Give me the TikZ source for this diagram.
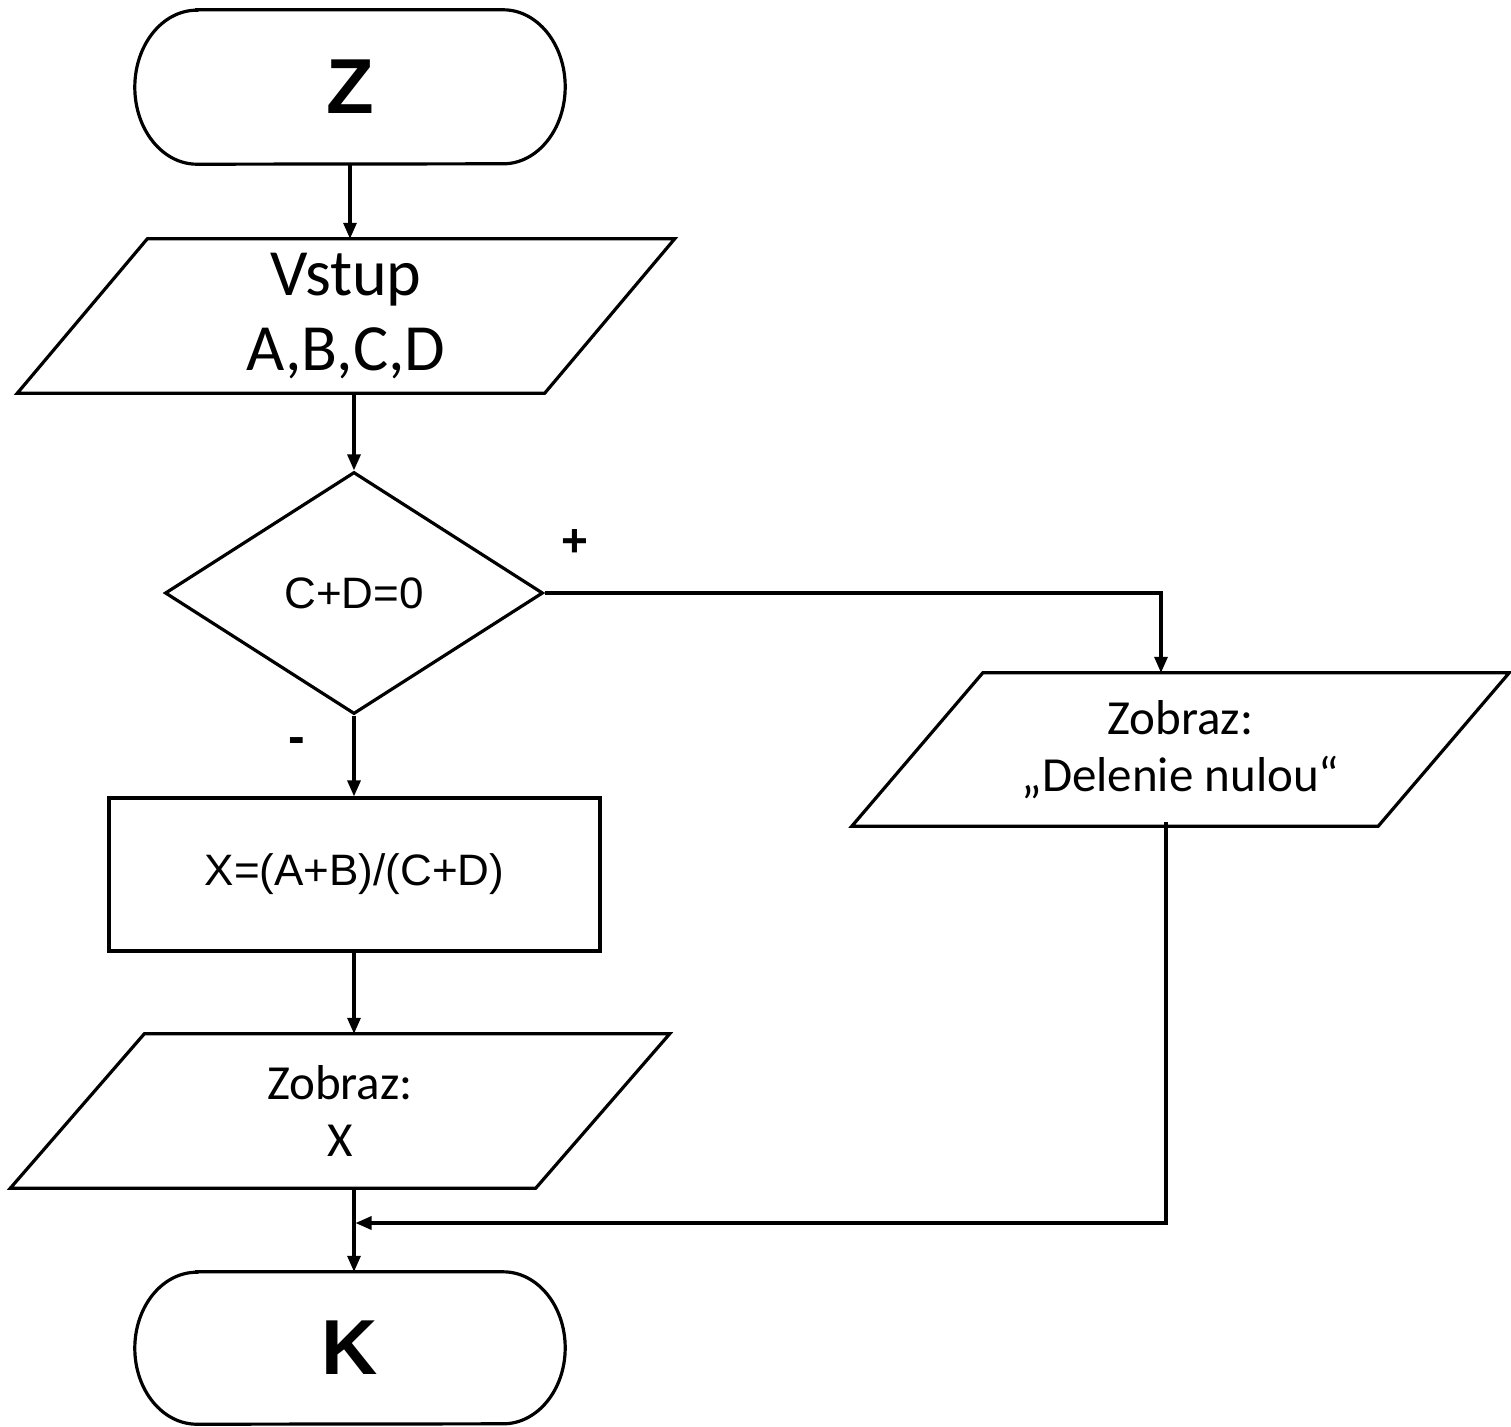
\documentclass[tikz,border=0pt]{standalone}
\usepackage{fontspec}
\setmainfont{Liberation Sans}
\newfontfamily\aptos{Carlito}
\usetikzlibrary{shapes.geometric,arrows.meta,calc}
\begin{document}
\begin{tikzpicture}[x=1pt,y=1pt,
  line/.style={line width=3.2pt,line join=miter},
  arr/.style={line width=3.2pt,-{Triangle[length=16pt,width=13pt]}},
  box/.style={draw=none,inner sep=0pt,align=center},
  bigtxt/.style={font=\fontsize{66}{75}\selectfont\aptos},
  midtxt/.style={font=\fontsize{49}{57}\selectfont\aptos},
  ariatxt/.style={font=\fontsize{44}{50}\selectfont},
  signtxt/.style={font=\fontsize{50}{56}\selectfont\bfseries},
  termtxt/.style={font=\fontsize{78}{80}\selectfont\bfseries}]
\useasboundingbox (0,0) rectangle (1511,-1426);
\fill[white] (0,0) rectangle (1511,-1426);

% start terminator
\node[box,termtxt,minimum width=430pt,minimum height=154pt] (z) at (350,-87) {Z};
\draw[line] ($(z.north west)+(62,0)$) -- ($(z.north east)+(-62,0)$)
  arc[start angle=90,end angle=-90,x radius=62,y radius=77]
  -- ($(z.south west)+(62,0)$)
  arc[start angle=270,end angle=90,x radius=62,y radius=77] -- cycle;

% input parallelogram
\node[box,bigtxt,minimum width=527pt,minimum height=154pt] (in) at (346,-316) {Vstup\\A,B,C,D};
\draw[line] ($(in.north west)+(65,0)$) -- ($(in.north east)+(65,0)$)
  -- ($(in.south east)+(-65,0)$) -- ($(in.south west)+(-65,0)$) -- cycle;

% decision
\node[draw,line,diamond,inner sep=0pt,minimum width=378pt,minimum height=242pt,ariatxt] (d) at (354,-593) {C+D=0};

% process
\node[draw,line,rectangle,inner sep=0pt,minimum width=491pt,minimum height=153pt,ariatxt] (r) at (354.5,-874.5) {X=(A+B)/(C+D)};

% output X
\node[box,midtxt,minimum width=525pt,minimum height=154pt] (o1) at (340,-1111) {Zobraz:\\X};
\draw[line] ($(o1.north west)+(67,0)$) -- ($(o1.north east)+(67,0)$)
  -- ($(o1.south east)+(-67,0)$) -- ($(o1.south west)+(-67,0)$) -- cycle;

% output message
\node[box,midtxt,minimum width=526pt,minimum height=153pt] (o2) at (1180.5,-749.5) {Zobraz:\\„Delenie nulou“};
\draw[line] ($(o2.north west)+(65.5,0)$) -- ($(o2.north east)+(65.5,0)$)
  -- ($(o2.south east)+(-65.5,0)$) -- ($(o2.south west)+(-65.5,0)$) -- cycle;

% end terminator
\node[box,termtxt,minimum width=430pt,minimum height=152pt] (k) at (350,-1348) {K};
\draw[line] ($(k.north west)+(62,0)$) -- ($(k.north east)+(-62,0)$)
  arc[start angle=90,end angle=-90,x radius=62,y radius=76]
  -- ($(k.south west)+(62,0)$)
  arc[start angle=270,end angle=90,x radius=62,y radius=76] -- cycle;

% labels
\node[signtxt,font=\fontsize{46}{52}\selectfont\bfseries] (plus) at (575,-543) {+};
\node[signtxt] (minus) at (297,-746) {-};

% connectors
\coordinate (c1) at (1161,-593);
\coordinate (c2) at (1166,-1223);
\draw[arr] (z.south) -- (z.south |- in.north);
\draw[arr] (d.north |- in.south) -- (d.north);
\draw[arr] (d.south) -- (d.south |- r.north);
\draw[arr] (d.south |- r.south) -- (d.south |- o1.north);
\draw[arr] (d.south |- o1.south) -- (d.south |- k.north);
\draw[arr] (d.east) -- (c1) -- (c1 |- o2.north);
\draw[arr] ($(c2 |- o2.south)+(0,4)$) -- (c2) -- ($(c2 -| d.south)+(1.5,0)$);
\end{tikzpicture}
\end{document}
